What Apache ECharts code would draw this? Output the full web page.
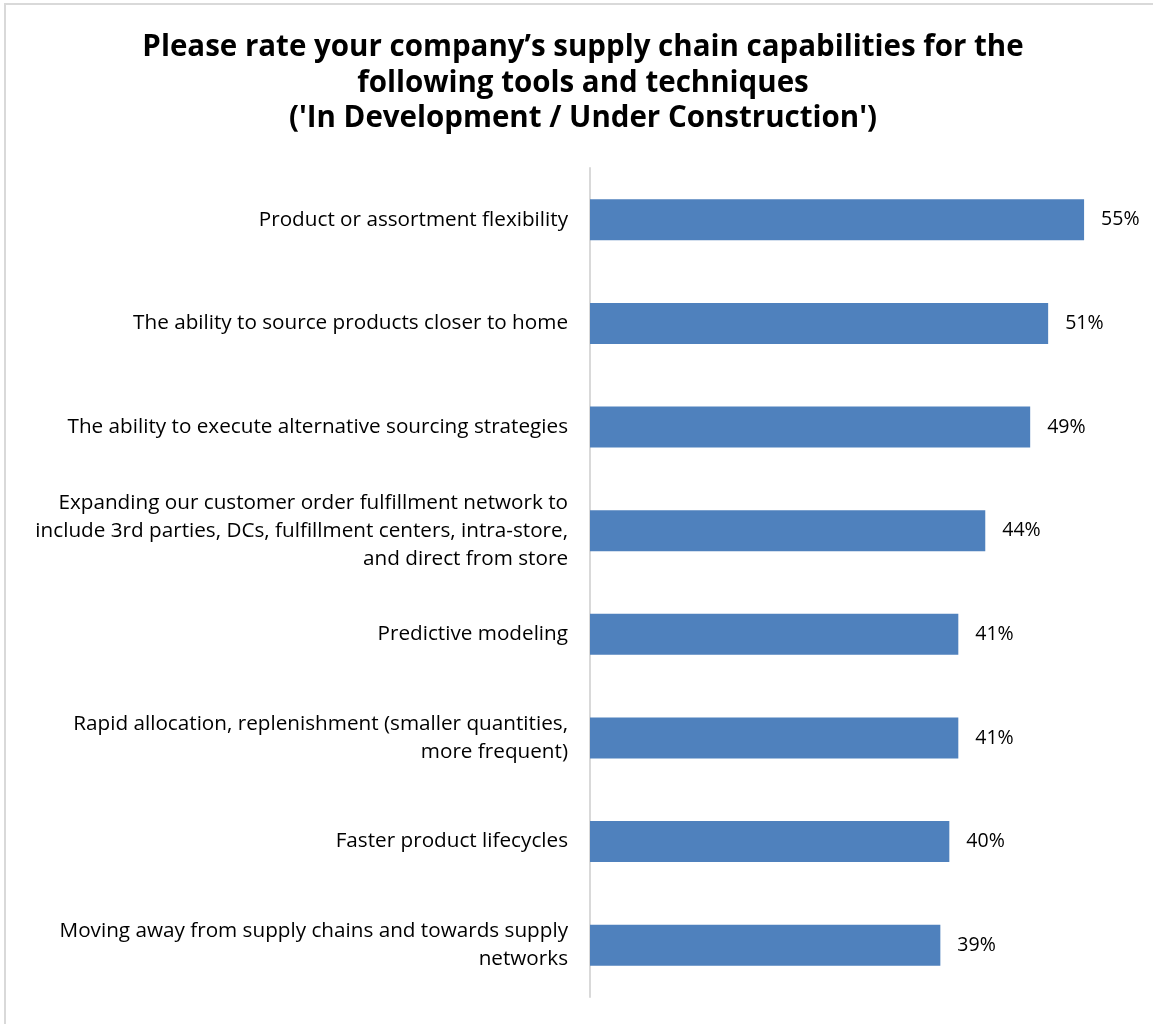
<!DOCTYPE html>
<html>
<head>
<meta charset="utf-8">
<style>
  html, body { margin: 0; padding: 0; background: #fff; }
  #chart { width: 1153px; height: 1024px; }
</style>
<script src="https://cdn.jsdelivr.net/npm/echarts@6/dist/echarts.min.js"></script>
</head>
<body>
<div id="chart"></div>
<script>
// Survey items, top to bottom
const categories = [
  'Product or assortment flexibility',
  'The ability to source products closer to home',
  'The ability to execute alternative sourcing strategies',
  'Expanding our customer order fulfillment network to\ninclude 3rd parties, DCs, fulfillment centers, intra-store,\nand direct from store',
  'Predictive modeling',
  'Rapid allocation, replenishment (smaller quantities,\nmore frequent)',
  'Faster product lifecycles',
  'Moving away from supply chains and towards supply\nnetworks'
];
// Share of respondents answering "In Development / Under Construction" (%)
const values = [55, 51, 49, 44, 41, 41, 40, 39];

const titleLines = [
  'Please rate your company\u2019s supply chain capabilities for the',
  'following tools and techniques',
  "('In Development / Under Construction')"
];

const FONT = '"Open Sans", "Lato", sans-serif';

const chart = echarts.init(document.getElementById('chart'));
chart.setOption({
  animation: false,
  backgroundColor: '#ffffff',
  title: {
    text: titleLines.join('\n'),
    left: 578,
    textAlign: 'center',
    top: 25,
    textStyle: {
      fontFamily: FONT,
      fontWeight: 'bold',
      fontSize: 29.5,
      lineHeight: 35.5,
      color: '#000000'
    }
  },
  graphic: [{
    type: 'rect',
    shape: { x: 5, y: 4, width: 1170, height: 1040 },
    style: { fill: 'none', stroke: '#d9d9d9', lineWidth: 2 },
    silent: true
  }],
  grid: { left: 590, right: 24, top: 168, bottom: 27, containLabel: false },
  xAxis: {
    type: 'value',
    min: 0,
    max: 60,
    show: false
  },
  yAxis: {
    type: 'category',
    inverse: true,
    data: categories,
    axisLine: { show: true, lineStyle: { color: '#d9d9d9', width: 2 } },
    axisTick: { show: false },
    axisLabel: {
      margin: 22,
      fontFamily: FONT,
      fontSize: 20.7,
      lineHeight: 28,
      color: '#000000',
      align: 'right'
    }
  },
  series: [{
    type: 'bar',
    data: values,
    barWidth: 41,
    itemStyle: { color: '#4F81BD' },
    label: {
      show: true,
      position: 'right',
      distance: 17,
      formatter: '{c}%',
      fontFamily: FONT,
      fontSize: 19.5,
      color: '#000000'
    }
  }]
});
</script>
</body>
</html>
